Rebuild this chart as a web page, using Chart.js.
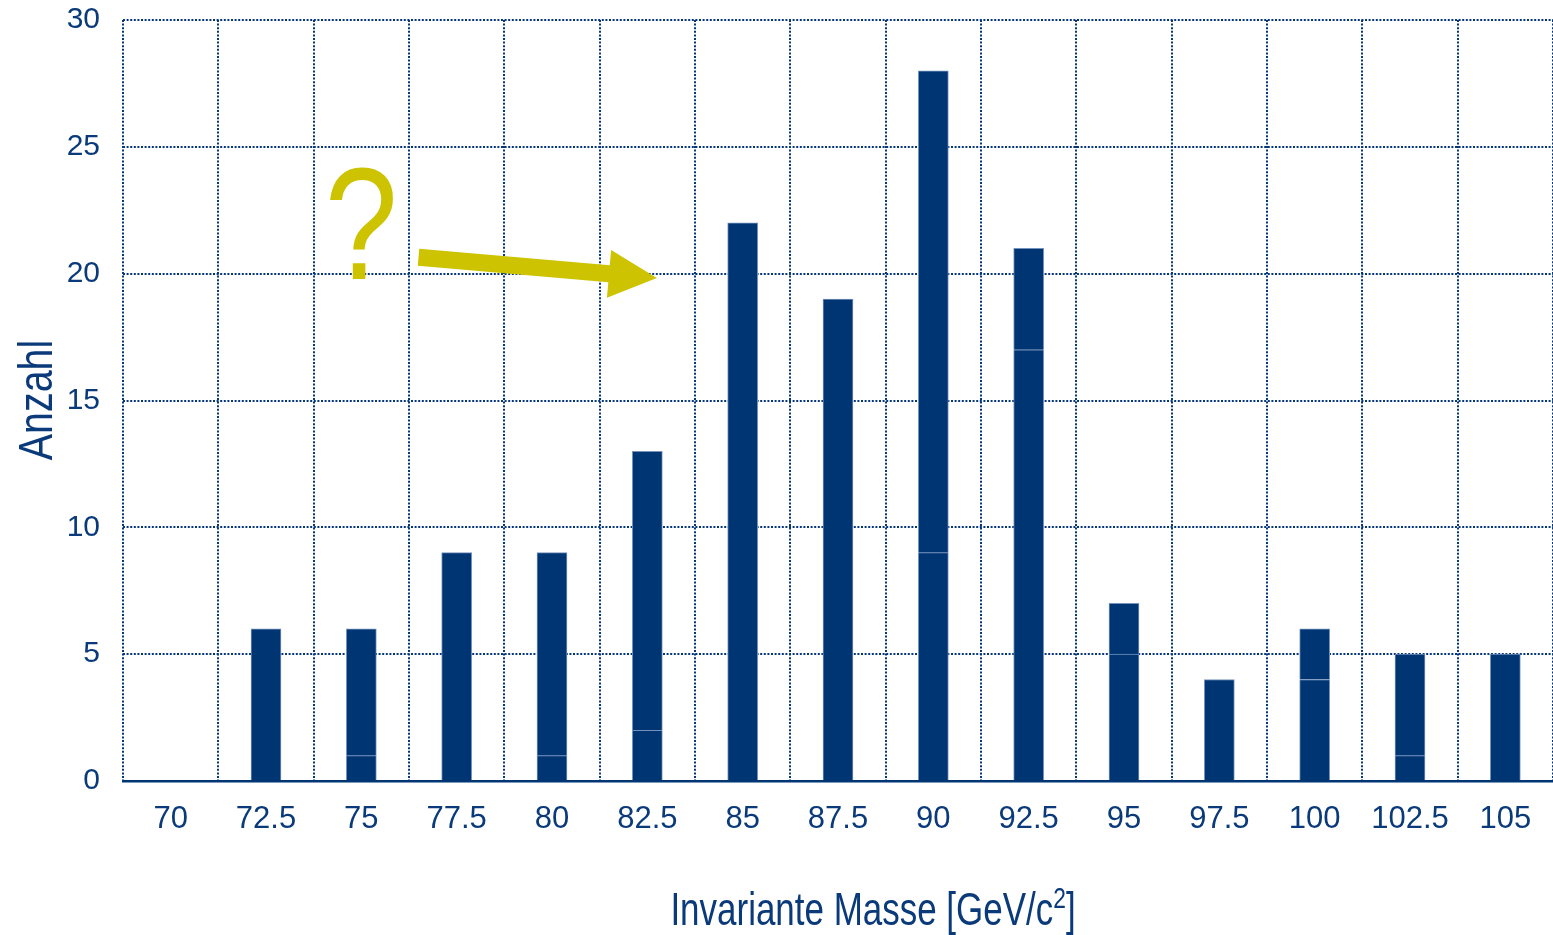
<!DOCTYPE html>
<html>
<head>
<meta charset="utf-8">
<script src="https://cdn.jsdelivr.net/npm/chart.js@4.4.1/dist/chart.umd.min.js"></script>
<style>
  html, body { margin: 0; padding: 0; background: #fff; }
  #wrap { width: 1553px; height: 935px; }
</style>
</head>
<body>
<div id="wrap"><canvas id="chart"></canvas></div>
<script>
// Invariante Masse histogram (two stacked parts, same colour)
const masses = ['70', '72.5', '75', '77.5', '80', '82.5', '85', '87.5', '90', '92.5', '95', '97.5', '100', '102.5', '105'];
const lowerPart = [0, 6, 1, 9, 1, 2, 22, 19, 9, 17, 5, 4, 4, 1, 5];
const upperPart = [0, 0, 5, 0, 8, 11, 0, 0, 19, 4, 2, 0, 2, 4, 0];
const yTicks = [0, 5, 10, 15, 20, 25, 30];

// the yellow "?" and arrow, in data units (category index, count)
const questionAt = [2, 19.8];
const arrowFrom = [2.6, 20.65];
const arrowTo = [5.1, 19.83];

const blue = '#003574';
const textBlue = '#0a3a7a';
const yellow = '#cdc300';

const drawExtras = {
  id: 'drawExtras',
  afterDatasetsDraw(chart) {
    const ctx = chart.ctx;
    const xs = chart.scales.x, ys = chart.scales.y;

    // question mark
    ctx.save();
    ctx.fillStyle = yellow;
    ctx.font = '160px "Liberation Sans", Arial, sans-serif';
    ctx.textAlign = 'center';
    ctx.textBaseline = 'alphabetic';
    ctx.translate(xs.getPixelForValue(questionAt[0]), ys.getPixelForValue(questionAt[1]));
    ctx.scale(0.82, 1);
    ctx.fillText('?', 0, 0);
    ctx.restore();

    // arrow
    const x0 = xs.getPixelForValue(arrowFrom[0]), y0 = ys.getPixelForValue(arrowFrom[1]);
    const x1 = xs.getPixelForValue(arrowTo[0]), y1 = ys.getPixelForValue(arrowTo[1]);
    const len = Math.hypot(x1 - x0, y1 - y0);
    const dx = (x1 - x0) / len, dy = (y1 - y0) / len;
    const nx = -dy, ny = dx;
    const headLen = 48, headHalf = 24, shaftHalf = 8.5;
    const bx = x1 - dx * headLen, by = y1 - dy * headLen;
    ctx.save();
    ctx.fillStyle = yellow;
    ctx.beginPath();
    ctx.moveTo(x0 + nx * shaftHalf, y0 + ny * shaftHalf);
    ctx.lineTo(bx + nx * shaftHalf, by + ny * shaftHalf);
    ctx.lineTo(bx + nx * headHalf, by + ny * headHalf);
    ctx.lineTo(x1, y1);
    ctx.lineTo(bx - nx * headHalf, by - ny * headHalf);
    ctx.lineTo(bx - nx * shaftHalf, by - ny * shaftHalf);
    ctx.lineTo(x0 - nx * shaftHalf, y0 - ny * shaftHalf);
    ctx.closePath();
    ctx.fill();
    ctx.restore();

    // axis titles (condensed look)
    ctx.save();
    ctx.fillStyle = textBlue;
    ctx.textBaseline = 'alphabetic';
    const main = 'Invariante Masse [GeV/c';
    const sup = '2';
    const close = ']';
    ctx.font = '46px "Liberation Sans", Arial, sans-serif';
    const wMain = ctx.measureText(main).width;
    const wClose = ctx.measureText(close).width;
    ctx.font = '30px "Liberation Sans", Arial, sans-serif';
    const wSup = ctx.measureText(sup).width;
    const total = wMain + wSup + wClose;
    const sx = 0.76;
    ctx.translate(873 - total * sx / 2, 925);
    ctx.scale(sx, 1);
    ctx.textAlign = 'left';
    ctx.font = '46px "Liberation Sans", Arial, sans-serif';
    ctx.fillText(main, 0, 0);
    ctx.font = '30px "Liberation Sans", Arial, sans-serif';
    ctx.fillText(sup, wMain, -17);
    ctx.font = '46px "Liberation Sans", Arial, sans-serif';
    ctx.fillText(close, wMain + wSup, 0);
    ctx.restore();

    ctx.save();
    ctx.fillStyle = textBlue;
    ctx.font = '48px "Liberation Sans", Arial, sans-serif';
    ctx.textAlign = 'center';
    ctx.textBaseline = 'alphabetic';
    ctx.translate(52, 400);
    ctx.rotate(-Math.PI / 2);
    ctx.scale(0.82, 1);
    ctx.fillText('Anzahl', 0, 0);
    ctx.restore();
  }
};

const gridColor = '#06377a';
const dots = [2, 1.6];

new Chart(document.getElementById('chart'), {
  type: 'bar',
  data: {
    labels: masses,
    datasets: [
      { data: lowerPart, backgroundColor: blue, borderColor: '#7592bc', borderWidth: 1, barThickness: 30 },
      { data: upperPart, backgroundColor: blue, borderColor: '#7592bc', borderWidth: 1, barThickness: 30 }
    ]
  },
  options: {
    responsive: true,
    maintainAspectRatio: false,
    animation: false,
    layout: { padding: 0 },
    plugins: { legend: { display: false }, tooltip: { enabled: false } },
    scales: {
      x: {
        stacked: true,
        offset: true,
        grid: { offset: true, color: gridColor, lineWidth: 2, drawTicks: false },
        border: { display: true, color: blue, width: 2.5, dash: dots },
        ticks: { color: textBlue, font: { family: '"Liberation Sans", Arial', size: 31 }, padding: 20 },
        afterFit(scale) { scale.height = 154; scale.paddingLeft = 0; scale.paddingRight = 0; }
      },
      y: {
        stacked: true,
        min: 0,
        max: 30,
        afterBuildTicks(scale) { scale.ticks = yTicks.map(v => ({ value: v })); },
        grid: { color: gridColor, lineWidth: 2, drawTicks: false },
        border: { display: false, dash: dots },
        ticks: { color: textBlue, font: { family: '"Liberation Sans", Arial', size: 30 }, padding: 23 },
        afterFit(scale) { scale.width = 123; scale.paddingTop = 20; scale.paddingBottom = 0; }
      }
    }
  },
  plugins: [drawExtras]
});
</script>
</body>
</html>
